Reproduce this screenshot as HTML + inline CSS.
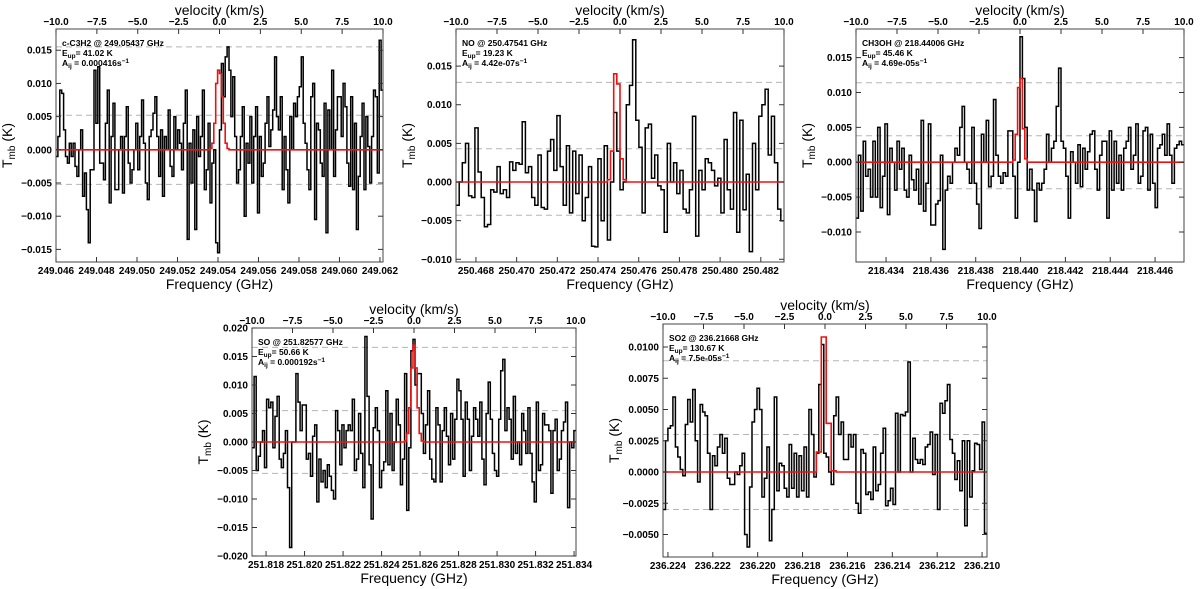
<!DOCTYPE html>
<html><head><meta charset="utf-8"><style>
html,body{margin:0;padding:0;background:#fff;}
svg{display:block;font-family:"Liberation Sans",sans-serif;}
</style></head>
<body>
<svg id="fig" width="1200" height="589" viewBox="0 0 1200 589" xmlns="http://www.w3.org/2000/svg"></svg>
<script>
// ---- data (mK) ----
const p1Obs=[-1,2,9,8.5,3,-1,-2,1,-1,1,-2.5,-4,0,3,-7,-3.5,-9,-14,-3,-3,12,4,12.5,-2,-2,-4.5,4,9,-8,2,7,-6,-6,0,2,-6.5,2,6.5,-2,-5,-3,0,4,-3,2,7.5,1,-5,-7.5,2,3,5.5,8,2,-4,3,-7,2,0,6,-2.5,-4,5,0,3,1,-3,4,9,-13.5,1,-5,3,-12,5,-1,2,9,-6,-3,4,-8,-2,0,-14,-15.5,3,13,8,14,15.5,12,5,11,2,-5,-3,2,6.5,-10,1,-2,5,-5,2,6.5,-9.5,2,-4,-2,4,8,0.5,3,6,14,5,3,8,-6,2,-3,-8,5,0,7,5,8,9.5,14,4,1,-3,-6,8,10,-10.5,4,3,-2,-4,7,-12.5,6,0,12,-4,3,8,8,2,10,6.5,-2,-5.5,8,-6,4,-12,-4,2,7,-6,5,0.5,-5,2,9,8,-3.5,16.5,9];
const p1Model=[0.2,1,4,10,12,11.5,8,4,1,0.2];
const p1ModelStart=81;
const p2Obs=[-3,0,2.5,5,-1.8,-2,7,1.3,-2,-5.8,-5.5,-1,-1.3,2,-1.5,-1,-2,2.6,1.5,2.5,2.3,7.8,1.2,2,-2,-3,3.5,-3.3,-3.5,4,5.5,1.5,8.6,2,-3,4.7,-4,4,-1.5,3.5,-5,-2,2,-8.3,-8.4,3,-5,4.7,-7.5,0,9,4,-1,0,10,12.5,18.4,8,4.5,-4,7,7.5,0.5,3.5,-0.5,-1,-6.5,5,0,2.5,-1.5,1.5,-3.5,-4,-1,8.5,-7,1.5,-1,3,2.5,1.5,-0.5,0.5,-4,5.5,-1,-3.5,9,-6.5,8,-3.6,1,-9,5,-1,8.5,10,12,3.5,8.5,2.5,-3.5,-5];
const p2Model=[0.3,4,14,12.7,3,0.3];
const p2ModelStart=48;
const p3Obs=[-8,1,-7,3,-2,-1,-5,3,-5,5,-6.5,-2,5.5,-7.5,2,0,-4,3,-1,2,-4,-5,1,-2.5,-4,-1,-6,6,-7,-3,5.5,-9,-9,-6,-5.5,1,-12.5,-4,-2,-3,0,2,1,5,8,0,-1,-3,5,-3,-6,-9.5,4,0,6,-3.5,-2,9,1,-2,-3,-1.5,-2,4.5,4.5,-2,-8,0,18,12,5,-4,-1,-4,-8.5,-3,-4,-3,-1,4,0,2,3,8,13.5,3,2,-2,-8,1.5,0,-3,2.5,-3.5,2,-1,1.5,4,4.5,-1,-4,1,3,3,-8,4.5,-4,3,-3,1,-4,2,3,5,-1,1,5.5,-3,-2,4.5,5,-4,4,-3,-6.5,2,2.5,4,1,5.5,1,-3,2,2.5,3,2.5];
const p3Model=[0.3,4,10.7,12,4.8,0.5];
const p3ModelStart=65;
const p4Obs=[-1,11.5,-5,-2.5,0,2,-4.5,7.5,6,7,-1,4.5,8,-3,-4.5,-2,2,-8,-18.5,0,0,12,7,2,6.5,6.5,-3,-2,-6,1,3,-10.5,-3,-7,-5,-8,-4,-6,-8.5,-10,5.5,2,-4,3,-1,2,3,2,7.5,-5,-3,5,-2,-8,18.5,8,-4,-13.5,2.5,6,2,-8,-5,-3.5,9,-4,5,-5,0,7.5,3,-7.5,-3,12,-12,-1,16,18,10,12,12,5,-2,3,9,-3,-6.5,-7,6,3,-7,2,6,1,-4,5,-3,4,11,9,4,-6,7,4,-5,1,6,4,1,7,-3,-7.5,5,10.5,4,-2,-5,-6,4,12.5,14.5,2,6,4,-3,8,-2,0,-4,5,2,-2,6,-2,-7,-10.5,7,-5,-4,5,3,3,2,-9,2,4,-5,-3,2,3.5,7,-11.5,0,-1,2];
const p4Model=[0.2,1.5,6,13,17,13,6,1.5,0.2];
const p4ModelStart=73;
const p5Obs=[-3,2.5,3.5,3.7,6,2,1.2,0.2,-0.3,3.8,5.8,4,6.6,2.5,-0.8,5.4,4.8,4.5,1.5,-3,1.3,0.5,2,3,1.5,2.7,-0.5,-1,-1,0,-0.2,0.5,1.5,-5,-6,-1.2,4,5,6.7,5,-2,-0.5,2,-5.5,-3,6,-1.5,0.7,0.5,-1.3,-2,2.2,-1.3,1.5,-2,1.3,-1.5,2,-2,5,3,-0.4,1.5,7,10.2,1.5,1.2,0,-1,4.5,6,3,4,1,1,3,2,3,-2.5,-3.3,1.8,1.5,-1.8,-1.6,-2.2,2,-1.5,-1,1.5,3.5,-2.7,-2.3,-1.3,-2.6,4.7,0,4.6,4.5,4.8,8.8,0,2.7,1,0.7,1,0.6,2,2.2,3.2,-0.2,3,-3,5.5,4.7,5.7,7,2.6,1.5,-0.6,0.9,-1.5,2.5,-4.3,2.5,-2,0.1,2.3,2.2,0.2,4,-4.9];
const p5Model=[1.6,1.6,10.8,10.8,3.9,3.9,0.1,0.1];
const p5ModelStart=62;
const p1Levels=[15.5,5.2,-5.2], p2Levels=[12.9,4.3,-4.3], p3Levels=[11.4,3.8,-3.8], p4Levels=[16.6,5.5,-5.5], p5Levels=[8.9,3.0,-3.0];
const p1YTicks=[-0.015,-0.010,-0.005,0,0.005,0.010,0.015];
const p2YTicks=[-0.010,-0.005,0,0.005,0.010,0.015];
const p3YTicks=[-0.010,-0.005,0,0.005,0.010,0.015];
const p4YTicks=[-0.020,-0.015,-0.010,-0.005,0,0.005,0.010,0.015,0.020];
const p5YTicks=[-0.005,-0.0025,0,0.0025,0.005,0.0075,0.010];
const p1FTicks=[249.046,249.048,249.050,249.052,249.054,249.056,249.058,249.060,249.062];
const p2FTicks=[250.468,250.470,250.472,250.474,250.476,250.478,250.480,250.482];
const p3FTicks=[218.434,218.436,218.438,218.440,218.442,218.444,218.446];
const p4FTicks=[251.818,251.820,251.822,251.824,251.826,251.828,251.830,251.832,251.834];
const p5FTicks=[236.224,236.222,236.220,236.218,236.216,236.214,236.212,236.210];
const vTicks=[-10,-7.5,-5,-2.5,0,2.5,5,7.5,10];

const panels=[
 {id:'c-c3h2',obs:p1Obs,model:p1Model,ms:p1ModelStart,lev:p1Levels,yt:p1YTicks,ft:p1FTicks,dec:3,L:56,R:383,T:29,B:262,y0:-16.9,y1:18.2,f0:249.046,f1:249.06215,
  lines:['c-C3H2 @ 249.05437 GHz','41.02 K','0.000416s']},
 {id:'no',obs:p2Obs,model:p2Model,ms:p2ModelStart,lev:p2Levels,yt:p2YTicks,ft:p2FTicks,dec:3,L:456,R:784,T:29,B:262,y0:-10.35,y1:19.8,f0:250.46702,f1:250.48314,
  lines:['NO @ 250.47541 GHz','19.23 K','4.42e-07s']},
 {id:'ch3oh',obs:p3Obs,model:p3Model,ms:p3ModelStart,lev:p3Levels,yt:p3YTicks,ft:p3FTicks,dec:3,L:856,R:1184,T:29,B:262,y0:-14.3,y1:19.1,f0:218.43266,f1:218.44729,
  lines:['CH3OH @ 218.44006 GHz','45.46 K','4.69e-05s']},
 {id:'so',obs:p4Obs,model:p4Model,ms:p4ModelStart,lev:p4Levels,yt:p4YTicks,ft:p4FTicks,dec:3,L:252,R:576,T:328,B:556,y0:-20,y1:20,f0:251.81727,f1:251.8341,
  lines:['SO @ 251.82577 GHz','50.66 K','0.000192s']},
 {id:'so2',obs:p5Obs,model:p5Model,ms:p5ModelStart,lev:p5Levels,yt:p5YTicks,ft:p5FTicks,dec:4,L:663,R:987,T:324,B:557,y0:-6.8,y1:11.84,f0:236.22422,f1:236.20978,
  lines:['SO2 @ 236.21668 GHz','130.67 K','7.5e-05s']}
];
const NS='http://www.w3.org/2000/svg';
const svg=document.getElementById('fig');
function mk(tag,attrs,parent,txt){const e=document.createElementNS(NS,tag);for(const k in attrs)e.setAttribute(k,attrs[k]);if(txt!==undefined)e.textContent=txt;parent.appendChild(e);return e;}
function fmt(v,d){const s=Math.abs(v).toFixed(d);return (v<0?'\u2212':'')+s;}

panels.forEach(p=>{
 const g=mk('g',{},svg);
 
 
 const N=p.obs.length;
 const xC=i=>p.L+(i/N)*(p.R-p.L);
 const yS=v=>p.B-(v-p.y0)/(p.y1-p.y0)*(p.B-p.T);
 const xF=f=>p.L+(f-p.f0)/(p.f1-p.f0)*(p.R-p.L);
 const xV=v=>p.L+(v+10)/20*(p.R-p.L);
 p.lev.forEach(l=>{const e=mk('line',{x1:p.L,x2:p.R,y1:yS(l),y2:yS(l),stroke:'#b5b5b5','stroke-width':1,'stroke-dasharray':'6,4'},g);
  
  });
 let d='';
 p.obs.forEach((v,i)=>{const y=yS(v);d+=(i===0?'M':'L')+xC(i).toFixed(1)+','+y.toFixed(1)+'L'+xC(i+1).toFixed(1)+','+y.toFixed(1);});
 const s=mk('path',{d:d,fill:'none',stroke:'#000','stroke-width':1.5,'stroke-linejoin':'miter'},g);
 
 
 const mv=[];for(let i=0;i<N;i++){const k=i-p.ms;mv.push(k>=0&&k<p.model.length?p.model[k]:0);}
 let dm='';
 mv.forEach((v,i)=>{const y=yS(v);dm+=(i===0?'M':'L')+xC(i).toFixed(1)+','+y.toFixed(1)+'L'+xC(i+1).toFixed(1)+','+y.toFixed(1);});
 const m=mk('path',{d:dm,fill:'none',stroke:'#ee1111','stroke-width':1.6},g);
 
 
 const fr=mk('rect',{x:p.L,y:p.T,width:p.R-p.L,height:p.B-p.T,fill:'none',stroke:'#444','stroke-width':1},g);
 
 
 p.yt.forEach(t=>{const y=yS(t*1000);
  mk('line',{x1:p.L,x2:p.L+5,y1:y,y2:y,stroke:'#333'},g);mk('line',{x1:p.R,x2:p.R-5,y1:y,y2:y,stroke:'#333'},g);
  const e=mk('text',{x:p.L-4,y:y+3.5,'text-anchor':'end','font-size':10,'font-weight':'bold'},g,fmt(t,p.dec));
  
  });
 p.ft.forEach(f=>{const x=xF(f);
  mk('line',{x1:x,x2:x,y1:p.B,y2:p.B-5,stroke:'#333'},g);
  const e=mk('text',{x:x,y:p.B+12,'text-anchor':'middle','font-size':10,'font-weight':'bold'},g,f.toFixed(3));
  
  });
 vTicks.forEach(v=>{const x=xV(v);
  mk('line',{x1:x,x2:x,y1:p.T,y2:p.T+5,stroke:'#333'},g);
  const e=mk('text',{x:x,y:p.T-4,'text-anchor':'middle','font-size':10,'font-weight':'bold'},g,fmt(v,1));
  
  });
 const cx=(p.L+p.R)/2;
 const vt=mk('text',{x:cx,y:p.T-14,'text-anchor':'middle','font-size':14},g,'velocity (km/s)');
 
 
 const xt=mk('text',{x:cx,y:p.B+27,'text-anchor':'middle','font-size':14},g,'Frequency (GHz)');
 
 
 const yl=mk('text',{x:0,y:0,'text-anchor':'middle','font-size':14,transform:'translate('+(p.L-44)+','+((p.T+p.B)/2)+') rotate(-90)'},g);
 
 
 mk('tspan',{},yl,'T');mk('tspan',{'font-size':10,dy:3},yl,'mb');mk('tspan',{dy:-3},yl,' (K)');
 const a=mk('g',{'font-size':8.5,'font-weight':'bold'},g);
 
 
 const ax=p.L+6,ay=p.T+17;
 mk('text',{x:ax,y:ay},a,p.lines[0]);
 const t2=mk('text',{x:ax,y:ay+10},a);mk('tspan',{},t2,'E');mk('tspan',{'font-size':6.5,dy:2},t2,'up');mk('tspan',{dy:-2},t2,'= '+p.lines[1]);
 const t3=mk('text',{x:ax,y:ay+20},a);mk('tspan',{},t3,'A');mk('tspan',{'font-size':6.5,dy:2},t3,'ij');mk('tspan',{dy:-2},t3,' = '+p.lines[2]);mk('tspan',{'font-size':6.5,dy:-3},t3,'\u22121');
});
</script>
</body></html>
